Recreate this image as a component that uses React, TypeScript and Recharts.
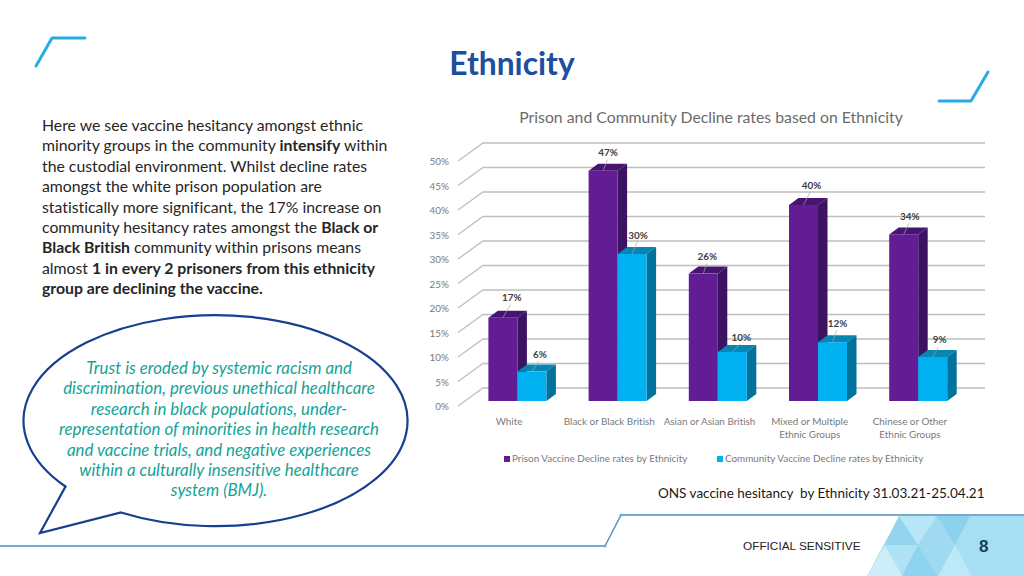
import { BarChart, Bar, XAxis, YAxis, CartesianGrid, Legend, LabelList } from 'recharts'

// ── Data ─────────────────────────────────────────────────
const categories = [
  'White',
  'Black or Black British',
  'Asian or Asian British',
  'Mixed or Multiple\nEthnic Groups',
  'Chinese or Other\nEthnic Groups',
]
const prisonRates = [17, 47, 26, 40, 34]
const communityRates = [6, 30, 10, 12, 9]
const yTicks = [0, 5, 10, 15, 20, 25, 30, 35, 40, 45, 50]

const PRISON_NAME = 'Prison Vaccine Decline rates by Ethnicity'
const COMMUNITY_NAME = 'Community Vaccine Decline rates by Ethnicity'

const chartData = categories.map((name, i) => ({
  name,
  prison: prisonRates[i],
  community: communityRates[i],
}))

const introLines = [
  [['Here we see vaccine hesitancy amongst ethnic', 0]],
  [['minority groups in the community ', 0], ['intensify', 1], [' within', 0]],
  [['the custodial environment. Whilst decline rates', 0]],
  [['amongst the white prison population are', 0]],
  [['statistically more significant, the 17% increase on', 0]],
  [['community hesitancy rates amongst the ', 0], ['Black or', 1]],
  [['Black British', 1], [' community within prisons means', 0]],
  [['almost ', 0], ['1 in every 2 prisoners from this ethnicity', 1]],
  [['group are declining the vaccine.', 1]],
] as [string, number][][]

const quoteLines = [
  'Trust is eroded by systemic racism and',
  'discrimination, previous unethical healthcare',
  'research in black populations, under-',
  'representation of minorities in health research',
  'and vaccine trials, and negative experiences',
  'within a culturally insensitive healthcare',
  'system (BMJ).',
]

// ── Palette / layout ─────────────────────────────────────
const FONT = 'Lato, Carlito, sans-serif'
const PURPLE = { front: '#621c94', top: '#47156f', side: '#3c1263' }
const CYAN = { front: '#00b0f0', top: '#0885b2', side: '#00729c' }
const GRID = '#bfbfbf'
const AXIS_TEXT = '#7a7a7a'

const DEPTH_X = 9.5
const DEPTH_Y = 7

// label nudges from the bar's top centre, by category
const PRISON_NUDGE = [[9, -20], [5, -18], [4, -17], [8, -20], [6, -18]]
const COMMUNITY_NUDGE = [[8, -17], [6, -19], [9, -15], [5, -19], [7, -17]]

function Bar3D({ x, y, width, height, colors }: any) {
  const r = x + width
  const b = y + height
  return (
    <g>
      <polygon points={`${x},${y} ${x + DEPTH_X},${y - DEPTH_Y} ${r + DEPTH_X},${y - DEPTH_Y} ${r},${y}`} fill={colors.top} />
      <polygon points={`${r},${y} ${r + DEPTH_X},${y - DEPTH_Y} ${r + DEPTH_X},${b - DEPTH_Y} ${r},${b}`} fill={colors.side} />
      <rect x={x} y={y} width={width} height={height} fill={colors.front} />
    </g>
  )
}

// grid line runs along the floor/side wall, then across the back wall
function WallLine({ x1, x2, y1 }: any) {
  return (
    <path
      d={`M${x1 - 9},${y1 + 5} L${x1 + 16},${y1 - 13} L${x2 + 17},${y1 - 13}`}
      fill="none" stroke={GRID} strokeWidth={1.3}
    />
  )
}

function YTick({ x, y, payload }: any) {
  return (
    <text x={x} y={y + 9} textAnchor="end" fontSize={9.9} fontFamily={FONT} fill={AXIS_TEXT}>
      {payload.value}%
    </text>
  )
}

function XTick({ x, y, payload }: any) {
  return (
    <text x={x - 8} y={y + 21.5} textAnchor="middle" fontSize={9.9} fontFamily={FONT} fill={AXIS_TEXT}>
      {String(payload.value).split('\n').map((line, i) => (
        <tspan key={i} x={x - 8} dy={i === 0 ? 0 : 13}>{line}</tspan>
      ))}
    </text>
  )
}

function makeCallout(nudges: number[][]) {
  return function Callout({ x, y, width, value, index }: any) {
    const cx = x + width / 2
    const [dx, dy] = nudges[index]
    return (
      <g>
        <line x1={cx} y1={y} x2={cx + dx * 0.85} y2={y + dy + 7} stroke="#a6a6a6" strokeWidth={0.7} />
        <text x={cx + dx} y={y + dy + 3.5} textAnchor="middle" fontSize={9.9} fontWeight={700} fontFamily={FONT} fill="#404040">
          {value}%
        </text>
      </g>
    )
  }
}

function LegendRow({ payload }: any) {
  return (
    <div style={{ position: 'relative', height: 14, fontFamily: FONT, fontSize: 9.9, color: AXIS_TEXT, whiteSpace: 'nowrap' }}>
      {(payload ?? []).map((item: any, i: number) => (
        <div key={item.value} style={{ position: 'absolute', left: i === 0 ? 0 : 213, top: 0, lineHeight: '14px' }}>
          <span style={{ display: 'inline-block', width: 6, height: 6, marginRight: 2, background: item.color }} />
          {item.value}
        </div>
      ))}
    </div>
  )
}

// ── Slide artwork ────────────────────────────────────────
function SlideArt() {
  return (
    <svg width={1024} height={576} style={{ position: 'absolute', left: 0, top: 0 }}>
      <g fill="none" stroke="#29abe2" strokeWidth={3} strokeLinecap="round" strokeLinejoin="round">
        <path d="M36,66 L52,38 L85,38" />
        <path d="M939,101 L971,101 L988,72" />
      </g>
      <path
        d="M121,512.5 A192,105.5 0 1 0 65.5,486.5 L40,533 Z"
        fill="#fff" stroke="#173f91" strokeWidth={2.2} strokeLinejoin="miter"
      />
      <g>
        <polygon points="899,516 1024,516 1024,576 867,576" fill="#a6def4" />
        <polygon points="899,516 885,545 918,545" fill="#93d5ef" />
        <polygon points="899,516 937,516 918,545" fill="#b8e6f7" />
        <polygon points="937,516 918,545 955,545" fill="#a0daf2" />
        <polygon points="937,516 970,516 955,545" fill="#8cd2ee" />
        <polygon points="885,545 918,545 902,576" fill="#b0e2f6" />
        <polygon points="885,545 867,576 902,576" fill="#cdedf9" />
        <polygon points="918,545 902,576 938,576" fill="#8fd4ee" />
        <polygon points="918,545 955,545 938,576" fill="#a0daf2" />
        <polygon points="955,545 938,576 972,576" fill="#bde8f7" />
      </g>
      <path d="M0,546 L605,546 L621,515 L1024,515" fill="none" stroke="#4f8fc0" strokeWidth={1.4} />
      <circle cx={621} cy={515} r={1.5} fill="#5bb5e0" />
      <circle cx={605} cy={546} r={1.5} fill="#5bb5e0" />
    </svg>
  )
}

export default function App() {
  return (
    <div style={{ position: 'absolute', left: 0, top: 0, width: 1024, height: 576, background: '#fff', overflow: 'hidden', fontFamily: FONT, fontVariantLigatures: 'none' }}>
      <SlideArt />

      <div style={{ position: 'absolute', left: 0, width: 1024, top: 43, textAlign: 'center', fontSize: 31.8, lineHeight: '40px', fontWeight: 700, color: '#1d4f9f' }}>
        Ethnicity
      </div>

      <div style={{ position: 'absolute', left: 42, top: 115, fontSize: 15.8, lineHeight: '20.4px', color: '#262626', whiteSpace: 'nowrap' }}>
        {introLines.map((line, i) => (
          <div key={i}>
            {line.map(([txt, bold], j) => (
              <span key={j} style={{ fontWeight: bold ? 700 : 400 }}>{txt}</span>
            ))}
          </div>
        ))}
      </div>

      <div style={{ position: 'absolute', left: 19, width: 400, top: 358, textAlign: 'center', fontSize: 16.85, lineHeight: '20.4px', fontStyle: 'italic', color: '#14a396', whiteSpace: 'nowrap' }}>
        {quoteLines.map((line) => <div key={line}>{line}</div>)}
      </div>

      <div style={{ position: 'absolute', left: 420, width: 582, top: 107, textAlign: 'center', fontSize: 15.8, lineHeight: '20px', color: '#6b6b6b' }}>
        Prison and Community Decline rates based on Ethnicity
      </div>

      <div style={{ position: 'absolute', left: 658, top: 483, fontSize: 13.5, lineHeight: '20px', color: '#1a1a1a', whiteSpace: 'pre' }}>
        ONS vaccine hesitancy  by Ethnicity 31.03.21-25.04.21
      </div>
      <div style={{ position: 'absolute', left: 743, top: 538, fontFamily: '"Liberation Sans", Arial, sans-serif', fontSize: 11.8, lineHeight: '16px', color: '#222' }}>
        OFFICIAL SENSITIVE
      </div>
      <div style={{ position: 'absolute', left: 979, top: 537, fontFamily: '"Liberation Sans", Arial, sans-serif', fontSize: 17, lineHeight: '20px', fontWeight: 700, color: '#0f3f5f' }}>
        8
      </div>

      <div style={{ position: 'absolute', left: 0, top: 0 }}>
        <BarChart
          width={1024}
          height={576}
          data={chartData}
          margin={{ top: 156, right: 56, bottom: 145, left: 447 }}
          barCategoryGap={21.4}
          barGap={0}
        >
          <CartesianGrid vertical={false} horizontal={(p: any) => <WallLine key={p.index ?? p.y1} {...p} />} />
          <XAxis dataKey="name" axisLine={false} tickLine={false} tickSize={0} interval={0} tick={<XTick />} height={30} />
          <YAxis
            domain={[0, 50]}
            ticks={yTicks}
            width={20}
            axisLine={false}
            tickLine={false}
            tickSize={0}
            tickMargin={18}
            tick={<YTick />}
          />
          <Legend
            layout="horizontal"
            verticalAlign="middle"
            align="center"
            itemSorter={(item: any) => (item.dataKey === 'prison' ? 0 : 1)}
            content={<LegendRow />}
            wrapperStyle={{ left: 504, top: 451, width: 440 }}
          />
          <Bar
            dataKey="prison"
            name={PRISON_NAME}
            fill={PURPLE.front}
            isAnimationActive={false}
            shape={(p: any) => <Bar3D {...p} colors={PURPLE} />}
          >
            <LabelList dataKey="prison" content={makeCallout(PRISON_NUDGE)} />
          </Bar>
          <Bar
            dataKey="community"
            name={COMMUNITY_NAME}
            fill={CYAN.front}
            isAnimationActive={false}
            shape={(p: any) => <Bar3D {...p} colors={CYAN} />}
          >
            <LabelList dataKey="community" content={makeCallout(COMMUNITY_NUDGE)} />
          </Bar>
        </BarChart>
      </div>
    </div>
  )
}
